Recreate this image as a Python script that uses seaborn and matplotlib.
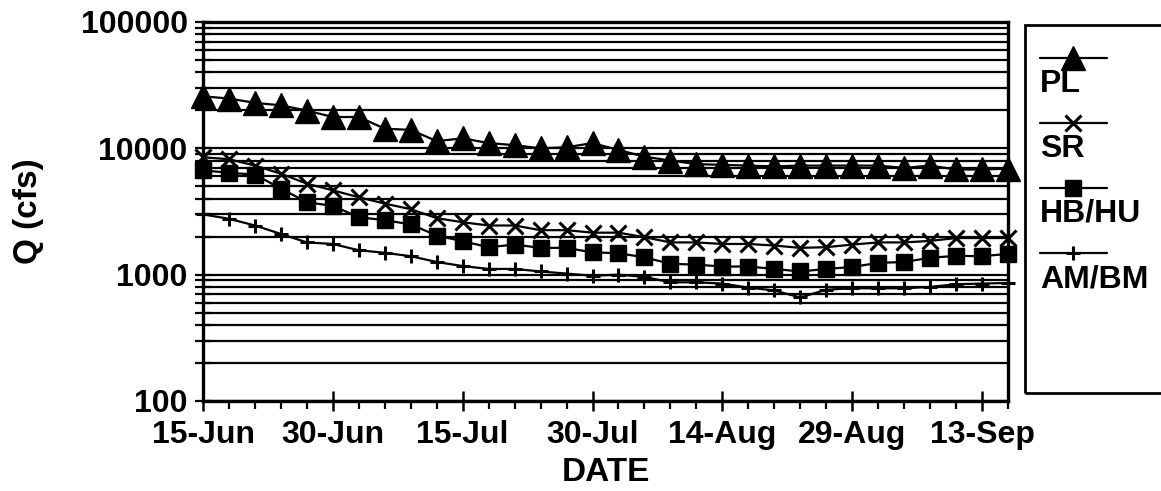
import numpy as np
import pandas as pd
import matplotlib
matplotlib.use("Agg")
import matplotlib.pyplot as plt
import matplotlib.dates as mdates
from matplotlib.lines import Line2D
from matplotlib.patches import Rectangle
from matplotlib.ticker import FixedLocator, FuncFormatter, NullFormatter
import seaborn as sns

# -----------------------------
# Data
# -----------------------------
dates = [
    "2000-06-15", "2000-06-18", "2000-06-21", "2000-06-24", "2000-06-27",
    "2000-06-30", "2000-07-03", "2000-07-06", "2000-07-09", "2000-07-12",
    "2000-07-15", "2000-07-18", "2000-07-21", "2000-07-24", "2000-07-27",
    "2000-07-30", "2000-08-02", "2000-08-05", "2000-08-08", "2000-08-11",
    "2000-08-14", "2000-08-17", "2000-08-20", "2000-08-23", "2000-08-26",
    "2000-08-29", "2000-09-01", "2000-09-04", "2000-09-07", "2000-09-10",
    "2000-09-13", "2000-09-16",
]
major_dates = ["2000-06-15", "2000-06-30", "2000-07-15", "2000-07-30",
               "2000-08-14", "2000-08-29", "2000-09-13"]

pl = [25800, 24800, 22900, 21900, 19900, 17700, 17700, 14300, 14000, 11400,
      12000, 11000, 10600, 10000, 10200, 11000, 9700, 8600, 8000, 7500,
      7400, 7300, 7200, 7300, 7300, 7300, 7300, 7000, 7300, 6800,
      6800, 6900]
sr = [8500, 8200, 7300, 6300, 5250, 4650, 4100, 3650, 3300, 2800,
      2600, 2450, 2450, 2250, 2250, 2150, 2150, 1980, 1800, 1800,
      1750, 1750, 1700, 1630, 1650, 1730, 1800, 1800, 1850, 1950,
      1950, 1950]
hb = [6700, 6400, 6200, 4800, 3750, 3500, 2850, 2700, 2500, 2040,
      1840, 1650, 1730, 1630, 1630, 1500, 1480, 1370, 1220, 1200,
      1160, 1160, 1110, 1060, 1110, 1150, 1240, 1260, 1360, 1410,
      1400, 1460]
am = [3000, 2770, 2450, 2100, 1800, 1750, 1560, 1490, 1400, 1260,
      1170, 1110, 1110, 1060, 1020, 980, 1000, 960, 870, 870,
      850, 790, 750, 660, 760, 780, 780, 780, 800, 840,
      850, 860]

series = [
    ("PL", pl, "^", 17, 1.0),
    ("SR", sr, "x", 11, 2.2),
    ("HB/HU", hb, "s", 11, 1.0),
    ("AM/BM", am, "+", 10, 2.2),
]

x = pd.to_datetime(dates)

# -----------------------------
# Style
# -----------------------------
sns.set_style("white")
plt.rcParams["font.family"] = ["Liberation Sans", "DejaVu Sans"]
plt.rcParams["font.weight"] = "bold"
plt.rcParams["font.size"] = 23
plt.rcParams["text.color"] = "black"
plt.rcParams["axes.labelcolor"] = "black"
plt.rcParams["axes.labelweight"] = "bold"
plt.rcParams["xtick.color"] = "black"
plt.rcParams["ytick.color"] = "black"

W, H = 1161, 491
fig = plt.figure(figsize=(W / 100, H / 100), dpi=100)
ax = fig.add_axes([203 / W, 1 - 401 / H, (1008 - 203) / W, (401 - 22) / H])

for name, vals, mk, ms, mew in series:
    df = pd.DataFrame({"date": x, "Q": vals})
    sns.lineplot(data=df, x="date", y="Q", ax=ax, color="black", lw=1.6,
                 marker=mk, markersize=ms, markeredgewidth=mew,
                 markeredgecolor="black", markerfacecolor="black",
                 clip_on=False, zorder=3)

ax.set_yscale("log")
ax.set_ylim(100, 100000)
ax.set_xlim(x[0], x[-1])

# y axis: labels on decades, grid on every minor value
ax.yaxis.set_major_locator(FixedLocator([100, 1000, 10000, 100000]))
ax.yaxis.set_major_formatter(FuncFormatter(lambda v, p: f"{int(v)}"))
minor_y = [m * d for d in (100, 1000, 10000) for m in range(2, 10)]
ax.yaxis.set_minor_locator(FixedLocator(minor_y))
ax.yaxis.set_minor_formatter(NullFormatter())
ax.grid(True, axis="y", which="both", color="black", lw=1.6)
ax.set_axisbelow(True)

# x axis: major every 15 days, minor every 3 days
ax.set_xticks(pd.to_datetime(major_dates))
ax.xaxis.set_major_formatter(mdates.DateFormatter("%d-%b"))
ax.xaxis.set_minor_locator(FixedLocator(mdates.date2num(x)))

ax.tick_params(axis="y", which="both", left=True, direction="inout",
               length=12, width=1.6, color="black", pad=5, labelsize=23,
               labelcolor="black")
ax.tick_params(axis="x", which="major", bottom=True, direction="inout",
               length=14, width=1.8, color="black", pad=7, labelsize=23,
               labelcolor="black")
ax.tick_params(axis="x", which="minor", bottom=True, direction="out",
               length=6, width=1.6, color="black")

for s in ax.spines.values():
    s.set_visible(True)
    s.set_color("black")
    s.set_linewidth(2.4)

ax.set_xlabel("DATE", fontsize=24, labelpad=5, color="black",
              fontweight="bold")
ax.set_ylabel("Q (cfs)", fontsize=24, labelpad=26, color="black",
              fontweight="bold")

# -----------------------------
# Legend (handle above its label, as in the original)
# -----------------------------
def fx(px):
    return px / W

def fy(py):
    return 1 - py / H

fig.patches.append(Rectangle((fx(1025), fy(393)), fx(1190) - fx(1025),
                             fy(25) - fy(393), transform=fig.transFigure,
                             fill=False, edgecolor="black", lw=2.0,
                             clip_on=False))

leg_rows = [58, 123, 188, 253]
for (name, vals, mk, ms, mew), yy in zip(series, leg_rows):
    fig.add_artist(Line2D([fx(1040), fx(1073), fx(1107)], [fy(yy)] * 3,
                          transform=fig.transFigure, color="black", lw=1.6,
                          marker=mk, markevery=[1], markersize=ms,
                          markeredgewidth=mew, markeredgecolor="black",
                          markerfacecolor="black"))
    fig.text(fx(1040), fy(yy + 26), name, transform=fig.transFigure,
             ha="left", va="center", fontsize=23, color="black")

plt.savefig("out.png", dpi=100)
plt.close()
